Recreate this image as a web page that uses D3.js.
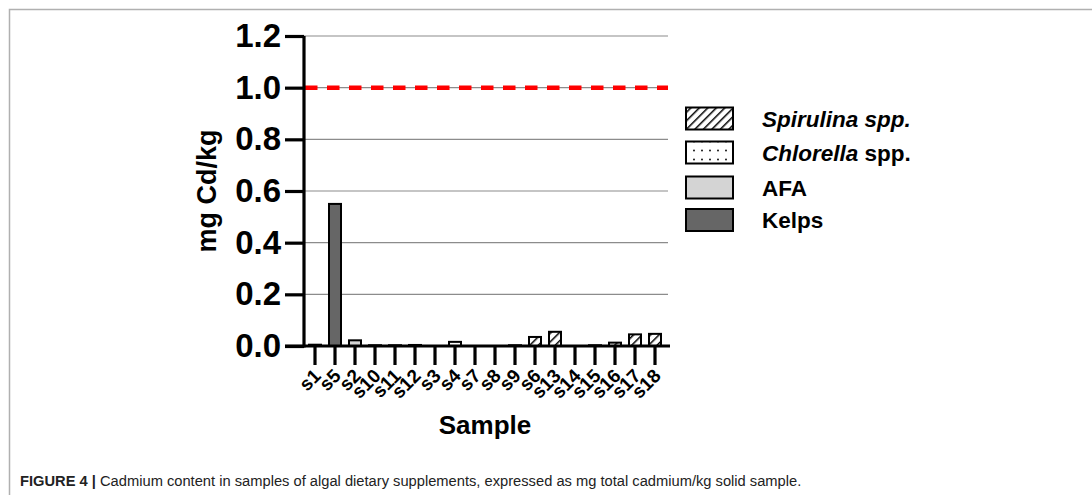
<!DOCTYPE html>
<html>
<head>
<meta charset="utf-8">
<script src="https://cdn.jsdelivr.net/npm/d3@7/dist/d3.min.js"></script>
<style>
  html, body { margin: 0; padding: 0; background: #fff; }
  svg { display: block; font-family: "Liberation Sans", Arial, Helvetica, sans-serif; }
</style>
</head>
<body>
<svg id="chart" width="1092" height="495"></svg>
<script>
// Samples in plotted order and their total cadmium (mg/kg)
const samples = ["s1","s5","s2","s10","s11","s12","s3","s4","s7","s8","s9","s6","s13","s14","s15","s16","s17","s18"];
const cadmium = [0.005, 0.55, 0.022, 0.003, 0.003, 0.004, 0, 0.016, 0, 0, 0.003, 0.035, 0.055, 0, 0.003, 0.013, 0.045, 0.047];
const groupOf = ["Kelps","Kelps","AFA","AFA","AFA","AFA","Chlorella","Chlorella","Chlorella","Chlorella","Chlorella",
                 "Spirulina","Spirulina","Spirulina","Spirulina","Spirulina","Spirulina","Spirulina"];

const yTicks = [0, 0.2, 0.4, 0.6, 0.8, 1.0, 1.2];
const limitValue = 1.0;   // regulatory maximum

const legendKeys = ["Spirulina","Chlorella","AFA","Kelps"];

const svg = d3.select("#chart");

// figure frame (top and left rules)
svg.append("path")
  .attr("d", "M9.5,495 V9.5 H1092")
  .attr("fill", "none").attr("stroke", "#b0b0b0").attr("stroke-width", 1.5);

// fill patterns
const defs = svg.append("defs");
const hatch = defs.append("pattern").attr("id", "hatch")
  .attr("patternUnits", "userSpaceOnUse").attr("width", 6).attr("height", 6)
  .attr("patternTransform", "rotate(45)");
hatch.append("rect").attr("width", 6).attr("height", 6).attr("fill", "#fff");
hatch.append("line").attr("x1", 0).attr("y1", 0).attr("x2", 0).attr("y2", 6)
  .attr("stroke", "#000").attr("stroke-width", 3);

const dots = defs.append("pattern").attr("id", "dots")
  .attr("patternUnits", "userSpaceOnUse").attr("width", 8).attr("height", 9)
  .attr("x", 2).attr("y", 2);
dots.append("rect").attr("width", 8).attr("height", 9).attr("fill", "#fff");
dots.append("circle").attr("cx", 4).attr("cy", 4.5).attr("r", 0.9).attr("fill", "#000");

const fills = { Spirulina: "url(#hatch)", Chlorella: "url(#dots)", AFA: "#d4d4d4", Kelps: "#666666" };

const x = d3.scaleBand().domain(samples).range([305, 665]).paddingInner(0.4).paddingOuter(0.2);
const y = d3.scaleLinear().domain([0, 1.2]).range([346, 36]);

const plotLeft = 304, plotRight = 668;

// horizontal gridlines
svg.append("g").selectAll("line").data(yTicks.filter(d => d > 0)).join("line")
  .attr("x1", plotLeft).attr("x2", plotRight)
  .attr("y1", d => y(d)).attr("y2", d => y(d))
  .attr("stroke", "#8c8c8c").attr("stroke-width", 1.2);

// limit line
svg.append("line")
  .attr("x1", plotLeft + 1).attr("x2", plotRight)
  .attr("y1", y(limitValue)).attr("y2", y(limitValue))
  .attr("stroke", "#ff0000").attr("stroke-width", 4.5)
  .attr("stroke-dasharray", "12.5,9.5");

// bars
svg.append("g").selectAll("rect").data(samples.map((s, i) => ({ s, v: cadmium[i], g: groupOf[i] })))
  .join("rect")
  .attr("x", d => x(d.s)).attr("width", x.bandwidth())
  .attr("y", d => y(d.v)).attr("height", d => y(0) - y(d.v))
  .attr("fill", d => fills[d.g])
  .attr("stroke", "#000").attr("stroke-width", 2);

// y axis
const yAxis = svg.append("g").attr("transform", `translate(${plotLeft},0)`)
  .call(d3.axisLeft(y).tickValues(yTicks).tickFormat(d3.format(".1f")).tickSize(19).tickPadding(4));
yAxis.select(".domain").attr("stroke-width", 3.2).attr("d", `M0,${y(1.2)}V${y(0) + 1.5}`);
yAxis.selectAll(".tick line").attr("stroke-width", 3.2);
yAxis.selectAll(".tick text")
  .attr("font-size", 33).attr("font-weight", "bold").attr("fill", "#000")
  .attr("font-family", "'Liberation Sans', Arial, sans-serif");

// x axis
const xAxis = svg.append("g").attr("transform", `translate(0,${y(0)})`)
  .call(d3.axisBottom(x).tickSize(19).tickPadding(4).tickSizeOuter(0));
xAxis.select(".domain").attr("stroke-width", 3.2).attr("d", `M${plotLeft - 19},0H670`);
xAxis.selectAll(".tick line").attr("stroke-width", 3.2);
xAxis.selectAll(".tick text")
  .attr("font-size", 19).attr("font-weight", "bold").attr("fill", "#000")
  .attr("font-family", "'Liberation Sans', Arial, sans-serif")
  .attr("text-anchor", "end").attr("dy", 0)
  .attr("transform", "translate(7,31) rotate(-45)")
  .attr("y", 0).attr("x", 0);

// axis titles
svg.append("text")
  .attr("transform", `translate(216,${(y(0) + y(1.2)) / 2}) rotate(-90)`)
  .attr("text-anchor", "middle")
  .attr("font-size", 27).attr("font-weight", "bold")
  .text("mg Cd/kg");

svg.append("text")
  .attr("x", 485).attr("y", 434).attr("text-anchor", "middle")
  .attr("font-size", 26).attr("font-weight", "bold")
  .text("Sample");

// legend
const legend = svg.append("g");
const legendY = [118.5, 152.5, 187.5, 220];
legendKeys.forEach((k, i) => {
  legend.append("rect")
    .attr("x", 686).attr("y", legendY[i] - 11).attr("width", 47).attr("height", 22)
    .attr("fill", fills[k]).attr("stroke", "#000").attr("stroke-width", 2);
  const t = legend.append("text")
    .attr("x", 762).attr("y", legendY[i] + 8)
    .attr("font-size", 22.5).attr("font-weight", "bold");
  if (k === "Spirulina") {
    t.append("tspan").attr("font-style", "italic").text("Spirulina spp.");
  } else if (k === "Chlorella") {
    t.append("tspan").attr("font-style", "italic").text("Chlorella");
    t.append("tspan").text(" spp.");
  } else {
    t.text(k);
  }
});

// caption
const cap = svg.append("text")
  .attr("x", 20).attr("y", 486)
  .attr("font-size", 14.7).attr("fill", "#222")
  .attr("font-family", "'Liberation Sans Narrow', 'Liberation Sans', Arial, sans-serif");
cap.append("tspan").attr("font-weight", "bold").text("FIGURE 4 | ");
cap.append("tspan").text("Cadmium content in samples of algal dietary supplements, expressed as mg total cadmium/kg solid sample.");
</script>
</body>
</html>
